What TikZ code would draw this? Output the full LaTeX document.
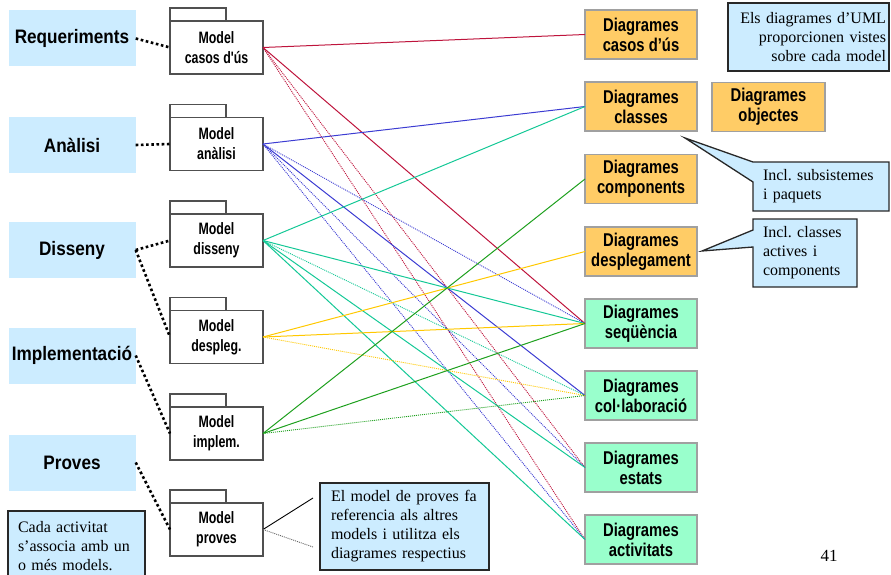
\documentclass[tikz,border=0pt]{standalone}
\usepackage{fontspec}
\setmainfont{Liberation Serif}
\newfontfamily\labelsans[FakeStretch=0.88]{Liberation Sans}
\newfontfamily\narrowsans[FakeStretch=0.8]{Liberation Sans}
\newfontfamily\pkgsans[FakeStretch=0.75]{Liberation Sans}
\usetikzlibrary{backgrounds,calc}

\definecolor{paleblue}{RGB}{204,236,255}
\definecolor{diagorange}{RGB}{255,204,102}
\definecolor{diaggreen}{RGB}{153,255,204}
\definecolor{boxedge}{RGB}{160,160,160}
\definecolor{pkgedge}{RGB}{80,80,80}
\definecolor{noteedge}{RGB}{40,40,40}
\definecolor{lnred}{RGB}{190,20,60}
\definecolor{lnblue}{RGB}{60,60,210}
\definecolor{lnteal}{RGB}{20,200,150}
\definecolor{lnyellow}{RGB}{255,200,0}
\definecolor{lngreen}{RGB}{30,160,30}

\begin{document}
\begin{tikzpicture}[x=1pt,y=-1pt,
  activity/.style={fill=paleblue, minimum width=127pt, minimum height=56pt,
    inner sep=0pt, font=\labelsans\bfseries\fontsize{19.5}{22}\selectfont},
  pkg/.style={draw=pkgedge, line width=1.3pt, fill=white, minimum width=93pt,
    minimum height=53pt, inner sep=0pt, outer sep=0pt, align=center,
    font=\pkgsans\bfseries\fontsize{16.5}{20}\selectfont},
  pkgtab/.style={draw=pkgedge, line width=1.3pt, fill=white},
  diag/.style={draw=boxedge, line width=1.5pt, minimum width=112pt,
    minimum height=49pt, inner sep=0pt, outer sep=0pt, align=center,
    font=\narrowsans\bfseries\fontsize{18.5}{20}\selectfont},
  orangediag/.style={diag, fill=diagorange},
  greendiag/.style={diag, fill=diaggreen},
  note/.style={font=\fontsize{16}{19}\selectfont, inner ysep=0pt, outer sep=0pt},
  boxednote/.style={note, draw=noteedge, line width=1.3pt, fill=paleblue},
  calloutline/.style={draw=noteedge, line width=1.3pt, fill=paleblue},
  link/.style={line width=1pt},
  weak/.style={line width=0.9pt, dash pattern=on 1pt off 1pt},
  trace/.style={line width=2.6pt, dash pattern=on 2.6pt off 2.6pt},
]
\useasboundingbox (0,0) rectangle (891,575);

% development activities
\node[activity] (req) at (72,38.5) {Requeriments};
\node[activity] (ana) at (72,145) {Anàlisi};
\node[activity] (dis) at (72,250) {Disseny};
\node[activity] (imp) at (72,355.5) {Implementació};
\node[activity] (pro) at (72,462.5) {Proves};

% models as UML packages
\node[pkg] (mcu) at (216.5,47.5) {Model\\casos d'ús};
\node[pkg] (man) at (216.5,144) {Model\\anàlisi};
\node[pkg] (mdi) at (216.5,240.5) {Model\\disseny};
\node[pkg] (mde) at (216.5,337) {Model\\despleg.};
\node[pkg] (mim) at (216.5,433.5) {Model\\implem.};
\node[pkg] (mpr) at (216.5,529.5) {Model\\proves};
\foreach \m in {mcu,man,mdi,mde,mim,mpr}
  \draw[pkgtab] (\m.north west) rectangle ++(56,-13);

% UML diagrams
\node[orangediag] (dcu) at (641,34.5) {Diagrames\\casos d’ús};
\node[orangediag] (dcl) at (641,106.5) {Diagrames\\classes};
\node[orangediag, minimum width=113pt] (dob) at (768.5,107) {Diagrames\\objectes};
\node[orangediag] (dco) at (641,179) {Diagrames\\components};
\node[orangediag] (dde) at (641,251.5) {Diagrames\\desplegament};
\node[greendiag] (dse) at (641,323.5) {Diagrames\\seqüència};
\node[greendiag] (dcol) at (641,395.5) {Diagrames\\col·laboració};
\node[greendiag] (des) at (641,467.5) {Diagrames\\estats};
\node[greendiag] (dac) at (641,539.5) {Diagrames\\activitats};

% activity -> model traces
\draw[trace] (req.east) -- (mcu.west);
\draw[trace] (ana.east) -- (man.west);
\draw[trace] (dis.east) -- (mdi.west);
\draw[trace] (dis.east) -- (mde.west);
\draw[trace] (imp.east) -- (mim.west);
\draw[trace] (pro.east) -- (mpr.west);

% model -> diagram views
\draw[link, lnred] (mcu.east) -- (dcu.west);
\draw[link, lnred] (mcu.east) -- (dse.west);
\draw[weak, lnred] (mcu.east) -- (des.west);
\draw[weak, lnred] (mcu.east) -- (dac.west);

\draw[link, lnblue] (man.east) -- (dcl.west);
\draw[weak, lnblue] (man.east) -- (dse.west);
\draw[link, lnblue] (man.east) -- (dcol.west);
\draw[weak, lnblue] (man.east) -- (des.west);
\draw[weak, lnblue] (man.east) -- (dac.west);

\draw[link, lnteal] (mdi.east) -- (dcl.west);
\draw[link, lnteal] (mdi.east) -- (dse.west);
\draw[weak, lnteal] (mdi.east) -- (dcol.west);
\draw[link, lnteal] (mdi.east) -- (des.west);
\draw[link, lnteal] (mdi.east) -- (dac.west);

\draw[link, lnyellow] (mde.east) -- (dde.west);
\draw[link, lnyellow] (mde.east) -- (dse.west);
\draw[weak, lnyellow] (mde.east) -- (dcol.west);

\draw[link, lngreen] (mim.east) -- (dco.west);
\draw[link, lngreen] (mim.east) -- (dse.west);
\draw[weak, lngreen] (mim.east) -- (dcol.west);

% notes
\node[boxednote, minimum width=161pt, minimum height=68pt, text width=155pt,
  inner xsep=3pt, align=right] (views) at (808.5,37)
  {Els diagrames d’UML\\proporcionen vistes\\sobre cada model};

\node[note, minimum width=136pt, minimum height=49pt, text width=116pt,
  inner xsep=10pt, align=left] (subs) at (821,186.5)
  {Incl.\ subsistemes\\i paquets};
\coordinate (substip) at (685,138);
\node[note, minimum width=104pt, minimum height=68pt, text width=84pt,
  inner xsep=10pt, align=left] (actv) at (805,253)
  {Incl.\ classes\\actives i\\components};
\coordinate (actvtip) at (702,251);
\begin{pgfonlayer}{background}
  \draw[calloutline] (substip) -- (subs.north west) -- (subs.north east)
    -- (subs.south east) -- (subs.south west)
    -- ($(subs.north west)+(0,20)$) -- cycle;
  \draw[calloutline] (actvtip) -- ($(actv.north west)+(0,11)$)
    -- (actv.north west) -- (actv.north east) -- (actv.south east)
    -- (actv.south west) -- ($(actv.north west)+(0,28)$) -- cycle;
\end{pgfonlayer}

\node[boxednote, minimum width=169pt, minimum height=87pt, text width=147pt,
  inner xsep=11pt, align=left] (tests) at (404.5,526.5)
  {El model de proves fa\\referencia als altres\\models i utilitza els\\diagrames respectius};
\coordinate (testsa) at (313,498);
\coordinate (testsb) at (313,547);
\draw[line width=0.9pt] (mpr.east) -- (testsa);
\draw[weak, black!60] (mpr.east) -- (testsb);

\node[boxednote, minimum width=137pt, minimum height=70pt, text width=117pt,
  inner xsep=10pt, align=left] (each) at (76.5,546)
  {Cada activitat\\s’associa amb un\\o més models.};

\node[note, font=\fontsize{17}{20}\selectfont] (page) at (829,556) {41};
\end{tikzpicture}
\end{document}
